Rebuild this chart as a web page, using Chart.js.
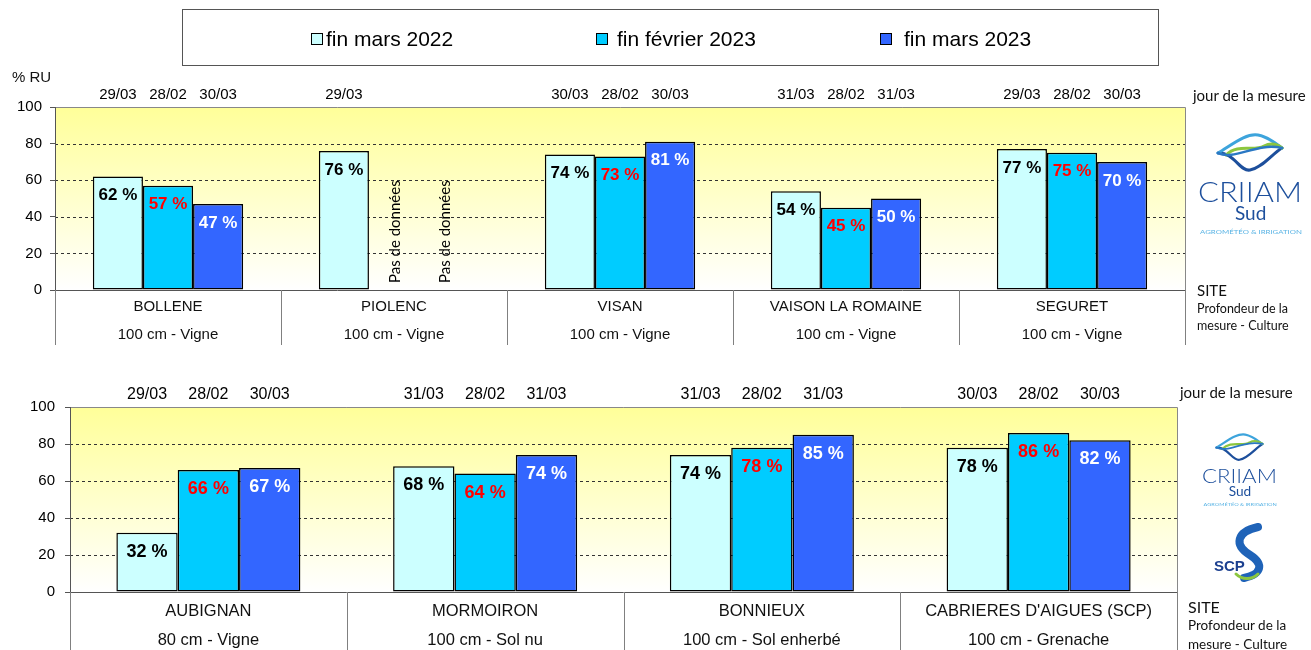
<!DOCTYPE html>
<html>
<head>
<meta charset="utf-8">
<script src="https://cdn.jsdelivr.net/npm/chart.js@4"></script>
<style>
body { margin: 0; background: #fff; width: 1311px; height: 650px; overflow: hidden; position: relative; font-family: Arial, "Liberation Sans", sans-serif; }
canvas { position: absolute; left: 0; }
#topChart { top: 0; }
#bottomChart { top: 350px; }
.legend { position: absolute; left: 182px; top: 9px; width: 977px; height: 57px; border: 1px solid #555; box-sizing: border-box; }
.legend-item { position: absolute; top: 17px; font-size: 21px; line-height: 24px; color: #000; white-space: nowrap; }
.legend-item i { display: inline-block; width: 10px; height: 10px; border: 1px solid #000; vertical-align: 1px; }
.side { position: absolute; font-family: Lato, "Open Sans", sans-serif; color: #111; white-space: nowrap; }
#overlay { position: absolute; left: 0; top: 0; }
</style>
</head>
<body>
<canvas id="topChart" width="1311" height="350"></canvas>
<canvas id="bottomChart" width="1311" height="300"></canvas>
<div class="legend" id="legend"></div>
<div class="side" style="left:12px;top:68px;font-family:Arial;font-size:15px;">% RU</div>
<div class="side" style="left:1193px;top:86px;font-size:15px;">jour de la mesure</div>
<div class="side" style="left:1197px;top:281px;font-size:15px;">SITE</div>
<div class="side" style="left:1197px;top:301px;font-size:12.5px;">Profondeur de la</div>
<div class="side" style="left:1197px;top:318px;font-size:12.5px;">mesure - Culture</div>
<div class="side" style="left:1180px;top:383px;font-size:15px;">jour de la mesure</div>
<div class="side" style="left:1188px;top:597px;font-size:16px;">SITE</div>
<div class="side" style="left:1188px;top:617px;font-size:13.5px;">Profondeur de la</div>
<div class="side" style="left:1188px;top:636px;font-size:13.5px;">mesure - Culture</div>
<svg id="overlay" width="1311" height="650">
  <defs>
    <g id="criiam">
      <path d="M20,23 C36,22 42,42 52,40 C64,38 74,24 84,18" fill="none" stroke="#1d4f9c" stroke-width="3" stroke-linecap="round"/>
      <path d="M20,23 C35,14 48,3 60,5 C71,7 78,14 84,18" fill="none" stroke="#3da4dc" stroke-width="3" stroke-linecap="round"/>
      <path d="M28,25 C40,13 56,22 66,16 C74,12 80,15 84,18" fill="none" stroke="#8cc63f" stroke-width="3" stroke-linecap="round"/>
      <path d="M20,23 C37,31 58,12 84,18" fill="none" stroke="#2a78c4" stroke-width="2.5" stroke-linecap="round"/>
      <text x="0" y="72" font-family="Lato, sans-serif" font-weight="300" font-size="28" fill="#1d4f9c" textLength="104" lengthAdjust="spacingAndGlyphs">CRIIAM</text>
      <text x="37" y="90" font-family="Lato, sans-serif" font-size="19" fill="#1d4f9c">Sud</text>
      <text x="2" y="104" font-family="Lato, sans-serif" font-size="5.5" fill="#5ab4e5" textLength="102" lengthAdjust="spacingAndGlyphs">AGROMÉTÉO &amp; IRRIGATION</text>
    </g>
  </defs>
  <use href="#criiam" transform="translate(1198,130)"/>
  <use href="#criiam" transform="translate(1202,431) scale(0.72)"/>
  <g>
    <path d="M1258,527 C1236,532 1234,545 1250,555 C1264,564 1262,574 1244,578" fill="none" stroke="#1f63b8" stroke-width="8" stroke-linecap="round"/>
    <path d="M1236,574 C1242,580 1252,580 1258,574" fill="none" stroke="#8cc63f" stroke-width="3" stroke-linecap="round"/>
    <text x="1214" y="571" font-family="Arial, sans-serif" font-weight="bold" font-size="15" fill="#1b3f8f">SCP</text>
  </g>
</svg>
<script>
// Series names and colours
const seriesNames = ['fin mars 2022', 'fin février 2023', 'fin mars 2023'];
const seriesColors = ['#CCFFFF', '#00CCFF', '#3366FF'];
const valueColors = ['#000000', '#FF0000', '#FFFFFF'];

// Top chart data
const sitesTop = ['BOLLENE', 'PIOLENC', 'VISAN', 'VAISON LA ROMAINE', 'SEGURET'];
const culturesTop = ['100 cm - Vigne', '100 cm - Vigne', '100 cm - Vigne', '100 cm - Vigne', '100 cm - Vigne'];
const mars2022Top = [62, 76, 74, 54, 77];
const fev2023Top = [57, null, 73, 45, 75];
const mars2023Top = [47, null, 81, 50, 70];
const datesMars2022Top = ['29/03', '29/03', '30/03', '31/03', '29/03'];
const datesFev2023Top = ['28/02', '', '28/02', '28/02', '28/02'];
const datesMars2023Top = ['30/03', '', '30/03', '31/03', '30/03'];

// Bottom chart data
const sitesBottom = ['AUBIGNAN', 'MORMOIRON', 'BONNIEUX', "CABRIERES D'AIGUES (SCP)"];
const culturesBottom = ['80 cm - Vigne', '100 cm - Sol nu', '100 cm - Sol enherbé', '100 cm - Grenache'];
const mars2022Bottom = [32, 68, 74, 78];
const fev2023Bottom = [66, 64, 78, 86];
const mars2023Bottom = [67, 74, 85, 82];
const datesMars2022Bottom = ['29/03', '31/03', '31/03', '30/03'];
const datesFev2023Bottom = ['28/02', '28/02', '28/02', '28/02'];
const datesMars2023Bottom = ['30/03', '31/03', '31/03', '30/03'];

// Y axis ticks
const yTicks = [0, 20, 40, 60, 80, 100];

const CAT_PCT = 0.665;

// Legend
const legendEl = document.getElementById('legend');
const legendX = [128, 413, 697];
const legendGap = [3, 9, 12];
seriesNames.forEach((name, i) => {
    const item = document.createElement('div');
    item.className = 'legend-item';
    item.style.left = legendX[i] + 'px';
    item.innerHTML = '<i style="background:' + seriesColors[i] + ';margin-right:' + legendGap[i] + 'px"></i>' + name;
    legendEl.appendChild(item);
});

// Plot background, dashed grid and frame
const backgroundPlugin = {
    id: 'plotBackground',
    beforeDraw(chart) {
        const { ctx, chartArea: a } = chart;
        const y = chart.scales.y;
        ctx.save();
        const grad = ctx.createLinearGradient(0, a.top, 0, a.bottom);
        grad.addColorStop(0, '#FFFF99');
        grad.addColorStop(1, '#FFFFFF');
        ctx.fillStyle = grad;
        ctx.fillRect(a.left, a.top, a.right - a.left, a.bottom - a.top);
        ctx.strokeStyle = '#333';
        ctx.lineWidth = 1;
        ctx.setLineDash([3, 3]);
        yTicks.slice(1, -1).forEach(v => {
            const py = Math.round(y.getPixelForValue(v)) + 0.5;
            ctx.beginPath();
            ctx.moveTo(a.left, py);
            ctx.lineTo(a.right, py);
            ctx.stroke();
        });
        ctx.setLineDash([]);
        ctx.strokeStyle = '#888';
        ctx.beginPath();
        ctx.moveTo(a.left, Math.round(a.top) + 0.5);
        ctx.lineTo(Math.round(a.right) + 0.5, Math.round(a.top) + 0.5);
        ctx.lineTo(Math.round(a.right) + 0.5, a.bottom);
        ctx.stroke();
        ctx.restore();
    }
};

// Value labels, measurement dates, missing data and site table
const annotationPlugin = {
    id: 'annotations',
    afterDatasetsDraw(chart, args, o) {
        const { ctx, chartArea: a } = chart;
        const x = chart.scales.x, y = chart.scales.y;
        const n = o.sites.length;
        const catW = (a.right - a.left) / n;
        const groupW = catW * CAT_PCT;
        const barW = groupW / 3;
        ctx.save();
        chart.data.datasets.forEach((ds, i) => {
            ds.data.forEach((v, j) => {
                const cx = x.getPixelForValue(j) - groupW / 2 + (i + 0.5) * barW;
                if (v == null) {
                    ctx.save();
                    ctx.translate(cx + 1, a.bottom - 7);
                    ctx.rotate(-Math.PI / 2);
                    ctx.font = '15px Lato, "Open Sans", sans-serif';
                    ctx.fillStyle = '#000';
                    ctx.textAlign = 'left';
                    ctx.textBaseline = 'middle';
                    ctx.fillText('Pas de données', 0, 0);
                    ctx.restore();
                } else {
                    ctx.font = 'bold ' + o.valueSize + 'px Arial, "Liberation Sans", sans-serif';
                    ctx.fillStyle = valueColors[i];
                    ctx.textAlign = 'center';
                    ctx.textBaseline = 'middle';
                    ctx.fillText(v + ' %', cx, y.getPixelForValue(v) + 19);
                }
                const d = o.dates[i][j];
                if (d) {
                    ctx.font = o.dateSize + 'px Arial, "Liberation Sans", sans-serif';
                    ctx.fillStyle = '#000';
                    ctx.textAlign = 'center';
                    ctx.textBaseline = 'middle';
                    ctx.fillText(d, cx, a.top - 12);
                }
            });
        });
        // bottom axis line
        ctx.strokeStyle = '#555';
        ctx.lineWidth = 1;
        ctx.beginPath();
        ctx.moveTo(a.left, Math.round(a.bottom) + 0.5);
        ctx.lineTo(a.right, Math.round(a.bottom) + 0.5);
        ctx.stroke();
        // table separators
        ctx.strokeStyle = '#808080';
        for (let k = 0; k <= n; k++) {
            const px = Math.round(a.left + k * catW) + 0.5;
            ctx.beginPath();
            ctx.moveTo(px, a.bottom);
            ctx.lineTo(px, o.tableBottom);
            ctx.stroke();
        }
        ctx.font = o.tableSize + 'px Arial, "Liberation Sans", sans-serif';
        ctx.fillStyle = '#111';
        ctx.textAlign = 'center';
        ctx.textBaseline = 'middle';
        o.sites.forEach((s, k) => {
            const cx = a.left + (k + 0.5) * catW;
            ctx.fillText(s, cx, a.bottom + o.row1);
            ctx.fillText(o.cultures[k], cx, a.bottom + o.row2);
        });
        ctx.restore();
    }
};

function makeChart(canvasId, sites, cultures, values, dates, layout) {
    const ctx = document.getElementById(canvasId).getContext('2d');
    return new Chart(ctx, {
        type: 'bar',
        data: {
            labels: sites,
            datasets: values.map((vals, i) => ({
                label: seriesNames[i],
                data: vals,
                backgroundColor: seriesColors[i],
                borderColor: '#000',
                borderWidth: 1.5,
                borderSkipped: false,
                categoryPercentage: CAT_PCT,
                barPercentage: 1
            }))
        },
        options: {
            responsive: false,
            animation: false,
            layout: { padding: layout.padding },
            scales: {
                x: { display: false },
                y: {
                    min: 0,
                    max: 100,
                    afterBuildTicks: (scale) => { scale.ticks = yTicks.map(v => ({ value: v })); },
                    afterFit: (scale) => { scale.width = layout.axisWidth; },
                    ticks: { font: { size: 15, family: 'Arial' }, color: '#000', padding: layout.tickPad },
                    grid: { drawOnChartArea: false, tickLength: 5, color: '#555' },
                    border: { color: '#555', width: 1 }
                }
            },
            plugins: {
                legend: { display: false },
                tooltip: { enabled: false },
                annotations: {
                    sites: sites,
                    cultures: cultures,
                    dates: dates,
                    valueSize: layout.valueSize,
                    dateSize: layout.dateSize,
                    tableSize: layout.tableSize,
                    tableBottom: layout.tableBottom,
                    row1: layout.row1,
                    row2: layout.row2
                }
            }
        },
        plugins: [backgroundPlugin, annotationPlugin]
    });
}

makeChart('topChart', sitesTop, culturesTop,
    [mars2022Top, fev2023Top, mars2023Top],
    [datesMars2022Top, datesFev2023Top, datesMars2023Top],
    { padding: { top: 107, right: 126, bottom: 60, left: 0 }, axisWidth: 55, tickPad: 8,
      valueSize: 17, dateSize: 15, tableSize: 15, tableBottom: 345, row1: 17, row2: 45 });

makeChart('bottomChart', sitesBottom, culturesBottom,
    [mars2022Bottom, fev2023Bottom, mars2023Bottom],
    [datesMars2022Bottom, datesFev2023Bottom, datesMars2023Bottom],
    { padding: { top: 57, right: 134, bottom: 58, left: 0 }, axisWidth: 70, tickPad: 10,
      valueSize: 18, dateSize: 16, tableSize: 16.5, tableBottom: 300, row1: 19, row2: 48 });
</script>
</body>
</html>
